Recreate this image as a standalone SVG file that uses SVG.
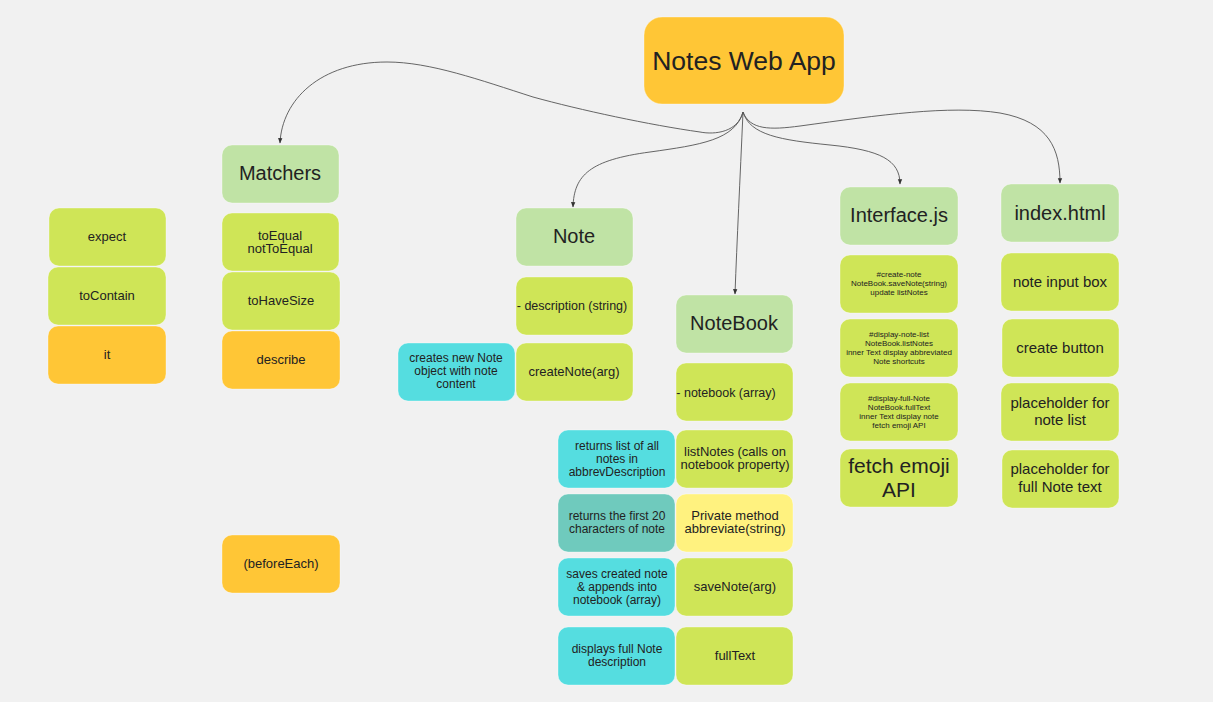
<svg xmlns="http://www.w3.org/2000/svg" width="1213" height="702" viewBox="0 0 1213 702">
<style>
rect{stroke:#ffffff;stroke-opacity:0.35;stroke-width:1}
.g{fill:#c0e3a5}.l{fill:#cfe557}.o{fill:#ffc636}.c{fill:#55dde0}.t{fill:#6fcabd}.y{fill:#fff27f}
text{font-family:"Liberation Sans",Arial,sans-serif;fill:#222;text-anchor:middle}
.s13{font-size:13px}.s12{font-size:12px}.s8{font-size:8px}.s15{font-size:15px}.s20{font-size:20px}
.e{fill:none;stroke:#555;stroke-width:0.9}
</style>
<defs><marker id="a" viewBox="0 0 10 10" refX="9" refY="5" markerWidth="6" markerHeight="6" orient="auto"><path d="M0,1L10,5L0,9z" fill="#333"/></marker></defs>
<rect width="1213" height="702" fill="#f1f1f1" style="stroke:none"/>
<g id="connectors">
<path class="e" marker-end="url(#a)" d="M743,112 C738,132 715,135 700,132 C650,125 580,110 533,97 C480,80 430,62 387,62 C320,62 282,100 280,143"/>
<path class="e" marker-end="url(#a)" d="M743,112 C735,140 700,145 650,152 C590,160 574,175 573,207"/>
<path class="e" marker-end="url(#a)" d="M743,112 C740,180 737,240 735,294"/>
<path class="e" marker-end="url(#a)" d="M743,112 C750,135 780,140 830,145 C880,150 900,160 900,184"/>
<path class="e" marker-end="url(#a)" d="M743,112 C750,130 770,130 800,126 C880,115 950,105 1000,113 C1050,122 1060,150 1060,183"/>
</g>
<g id="app"><rect class="o" x="644" y="17" width="200" height="87" rx="18"/><text x="744" y="70" style="font-size:26.5px">Notes Web App</text></g>
<g id="matchers"><rect class="g" x="222" y="145" width="117" height="58" rx="10"/><text class="s20" x="280" y="180">Matchers</text></g>
<g id="expect"><rect class="l" x="49" y="208" width="117" height="58" rx="10"/><text class="s13" x="107" y="241">expect</text></g>
<g id="toContain"><rect class="l" x="48" y="267" width="118" height="58" rx="10"/><text class="s13" x="107" y="300">toContain</text></g>
<g id="it"><rect class="o" x="48" y="326" width="118" height="58" rx="10"/><text class="s13" x="107" y="359">it</text></g>
<g id="toEqual"><rect class="l" x="222" y="213" width="117" height="58" rx="10"/><text class="s13" x="280" y="240">toEqual</text><text class="s13" x="280" y="253">notToEqual</text></g>
<g id="toHaveSize"><rect class="l" x="222" y="272" width="118" height="58" rx="10"/><text class="s13" x="281" y="305">toHaveSize</text></g>
<g id="describe"><rect class="o" x="222" y="331" width="118" height="58" rx="10"/><text class="s13" x="281" y="364">describe</text></g>
<g id="beforeEach"><rect class="o" x="222" y="535" width="118" height="58" rx="10"/><text class="s13" x="281" y="568">(beforeEach)</text></g>
<g id="note"><rect class="g" x="516" y="208" width="117" height="58" rx="10"/><text class="s20" x="574" y="243">Note</text></g>
<g id="description"><rect class="l" x="516" y="277" width="117" height="58" rx="10"/><text x="572" y="310" style="font-size:12.5px">- description (string)</text></g>
<g id="createNote"><rect class="l" x="516" y="343" width="117" height="58" rx="10"/><text class="s13" x="574" y="376">createNote(arg)</text></g>
<g id="createsNew"><rect class="c" x="398" y="343" width="117" height="58" rx="10"/><text class="s12" x="456" y="362">creates new Note</text><text class="s12" x="456" y="375">object with note</text><text class="s12" x="456" y="388">content</text></g>
<g id="notebook"><rect class="g" x="676" y="295" width="117" height="58" rx="10"/><text class="s20" x="734" y="330">NoteBook</text></g>
<g id="notebookArr"><rect class="l" x="676" y="363" width="117" height="58" rx="10"/><text x="726" y="397" style="font-size:12.5px">- notebook (array)</text></g>
<g id="listNotes"><rect class="l" x="676" y="430" width="117" height="58" rx="10"/><text class="s13" x="735" y="456">listNotes (calls on</text><text class="s13" x="735" y="469">notebook property)</text></g>
<g id="returnsList"><rect class="c" x="558" y="430" width="117" height="58" rx="10"/><text class="s12" x="617" y="450">returns list of all</text><text class="s12" x="617" y="463">notes in</text><text class="s12" x="617" y="476">abbrevDescription</text></g>
<g id="returnsFirst"><rect class="t" x="558" y="494" width="117" height="58" rx="10"/><text class="s12" x="617" y="520">returns the first 20</text><text class="s12" x="617" y="533">characters of note</text></g>
<g id="private"><rect class="y" x="676" y="494" width="117" height="58" rx="10"/><text class="s13" x="735" y="520">Private method</text><text class="s13" x="735" y="533">abbreviate(string)</text></g>
<g id="saves"><rect class="c" x="558" y="558" width="117" height="58" rx="10"/><text class="s12" x="617" y="578">saves created note</text><text class="s12" x="617" y="591">&amp; appends into</text><text class="s12" x="617" y="604">notebook (array)</text></g>
<g id="saveNote"><rect class="l" x="676" y="558" width="117" height="58" rx="10"/><text class="s13" x="735" y="591">saveNote(arg)</text></g>
<g id="displays"><rect class="c" x="558" y="627" width="117" height="58" rx="10"/><text class="s12" x="617" y="653">displays full Note</text><text class="s12" x="617" y="666">description</text></g>
<g id="fullText"><rect class="l" x="676" y="627" width="117" height="58" rx="10"/><text class="s13" x="735" y="660">fullText</text></g>
<g id="interface"><rect class="g" x="840" y="187" width="118" height="58" rx="10"/><text class="s20" x="899" y="222">Interface.js</text></g>
<g id="createNoteId"><rect class="l" x="840" y="255" width="118" height="58" rx="10"/><text class="s8" x="899" y="277">#create-note</text><text class="s8" x="899" y="286">NoteBook.saveNote(string)</text><text class="s8" x="899" y="295">update listNotes</text></g>
<g id="displayList"><rect class="l" x="840" y="319" width="118" height="58" rx="10"/><text class="s8" x="899" y="337">#display-note-list</text><text class="s8" x="899" y="346">NoteBook.listNotes</text><text class="s8" x="899" y="355">inner Text display abbreviated</text><text class="s8" x="899" y="364">Note shortcuts</text></g>
<g id="displayFull"><rect class="l" x="840" y="383" width="118" height="58" rx="10"/><text class="s8" x="899" y="401">#display-full-Note</text><text class="s8" x="899" y="410">NoteBook.fullText</text><text class="s8" x="899" y="419">inner Text display note</text><text class="s8" x="899" y="428">fetch emoji API</text></g>
<g id="fetchEmoji"><rect class="l" x="840" y="449" width="118" height="58" rx="10"/><text x="899" y="473" style="font-size:21px">fetch emoji</text><text x="899" y="497" style="font-size:21px">API</text></g>
<g id="index"><rect class="g" x="1001" y="184" width="118" height="58" rx="10"/><text class="s20" x="1060" y="220">index.html</text></g>
<g id="inputBox"><rect class="l" x="1001" y="253" width="118" height="58" rx="10"/><text class="s15" x="1060" y="287">note input box</text></g>
<g id="createButton"><rect class="l" x="1002" y="319" width="117" height="58" rx="10"/><text class="s15" x="1060" y="353">create button</text></g>
<g id="phList"><rect class="l" x="1001" y="383" width="118" height="58" rx="10"/><text class="s15" x="1060" y="408">placeholder for</text><text class="s15" x="1060" y="425">note list</text></g>
<g id="phFull"><rect class="l" x="1002" y="450" width="117" height="58" rx="10"/><text class="s15" x="1060" y="474">placeholder for</text><text class="s15" x="1060" y="492">full Note text</text></g>
</svg>
